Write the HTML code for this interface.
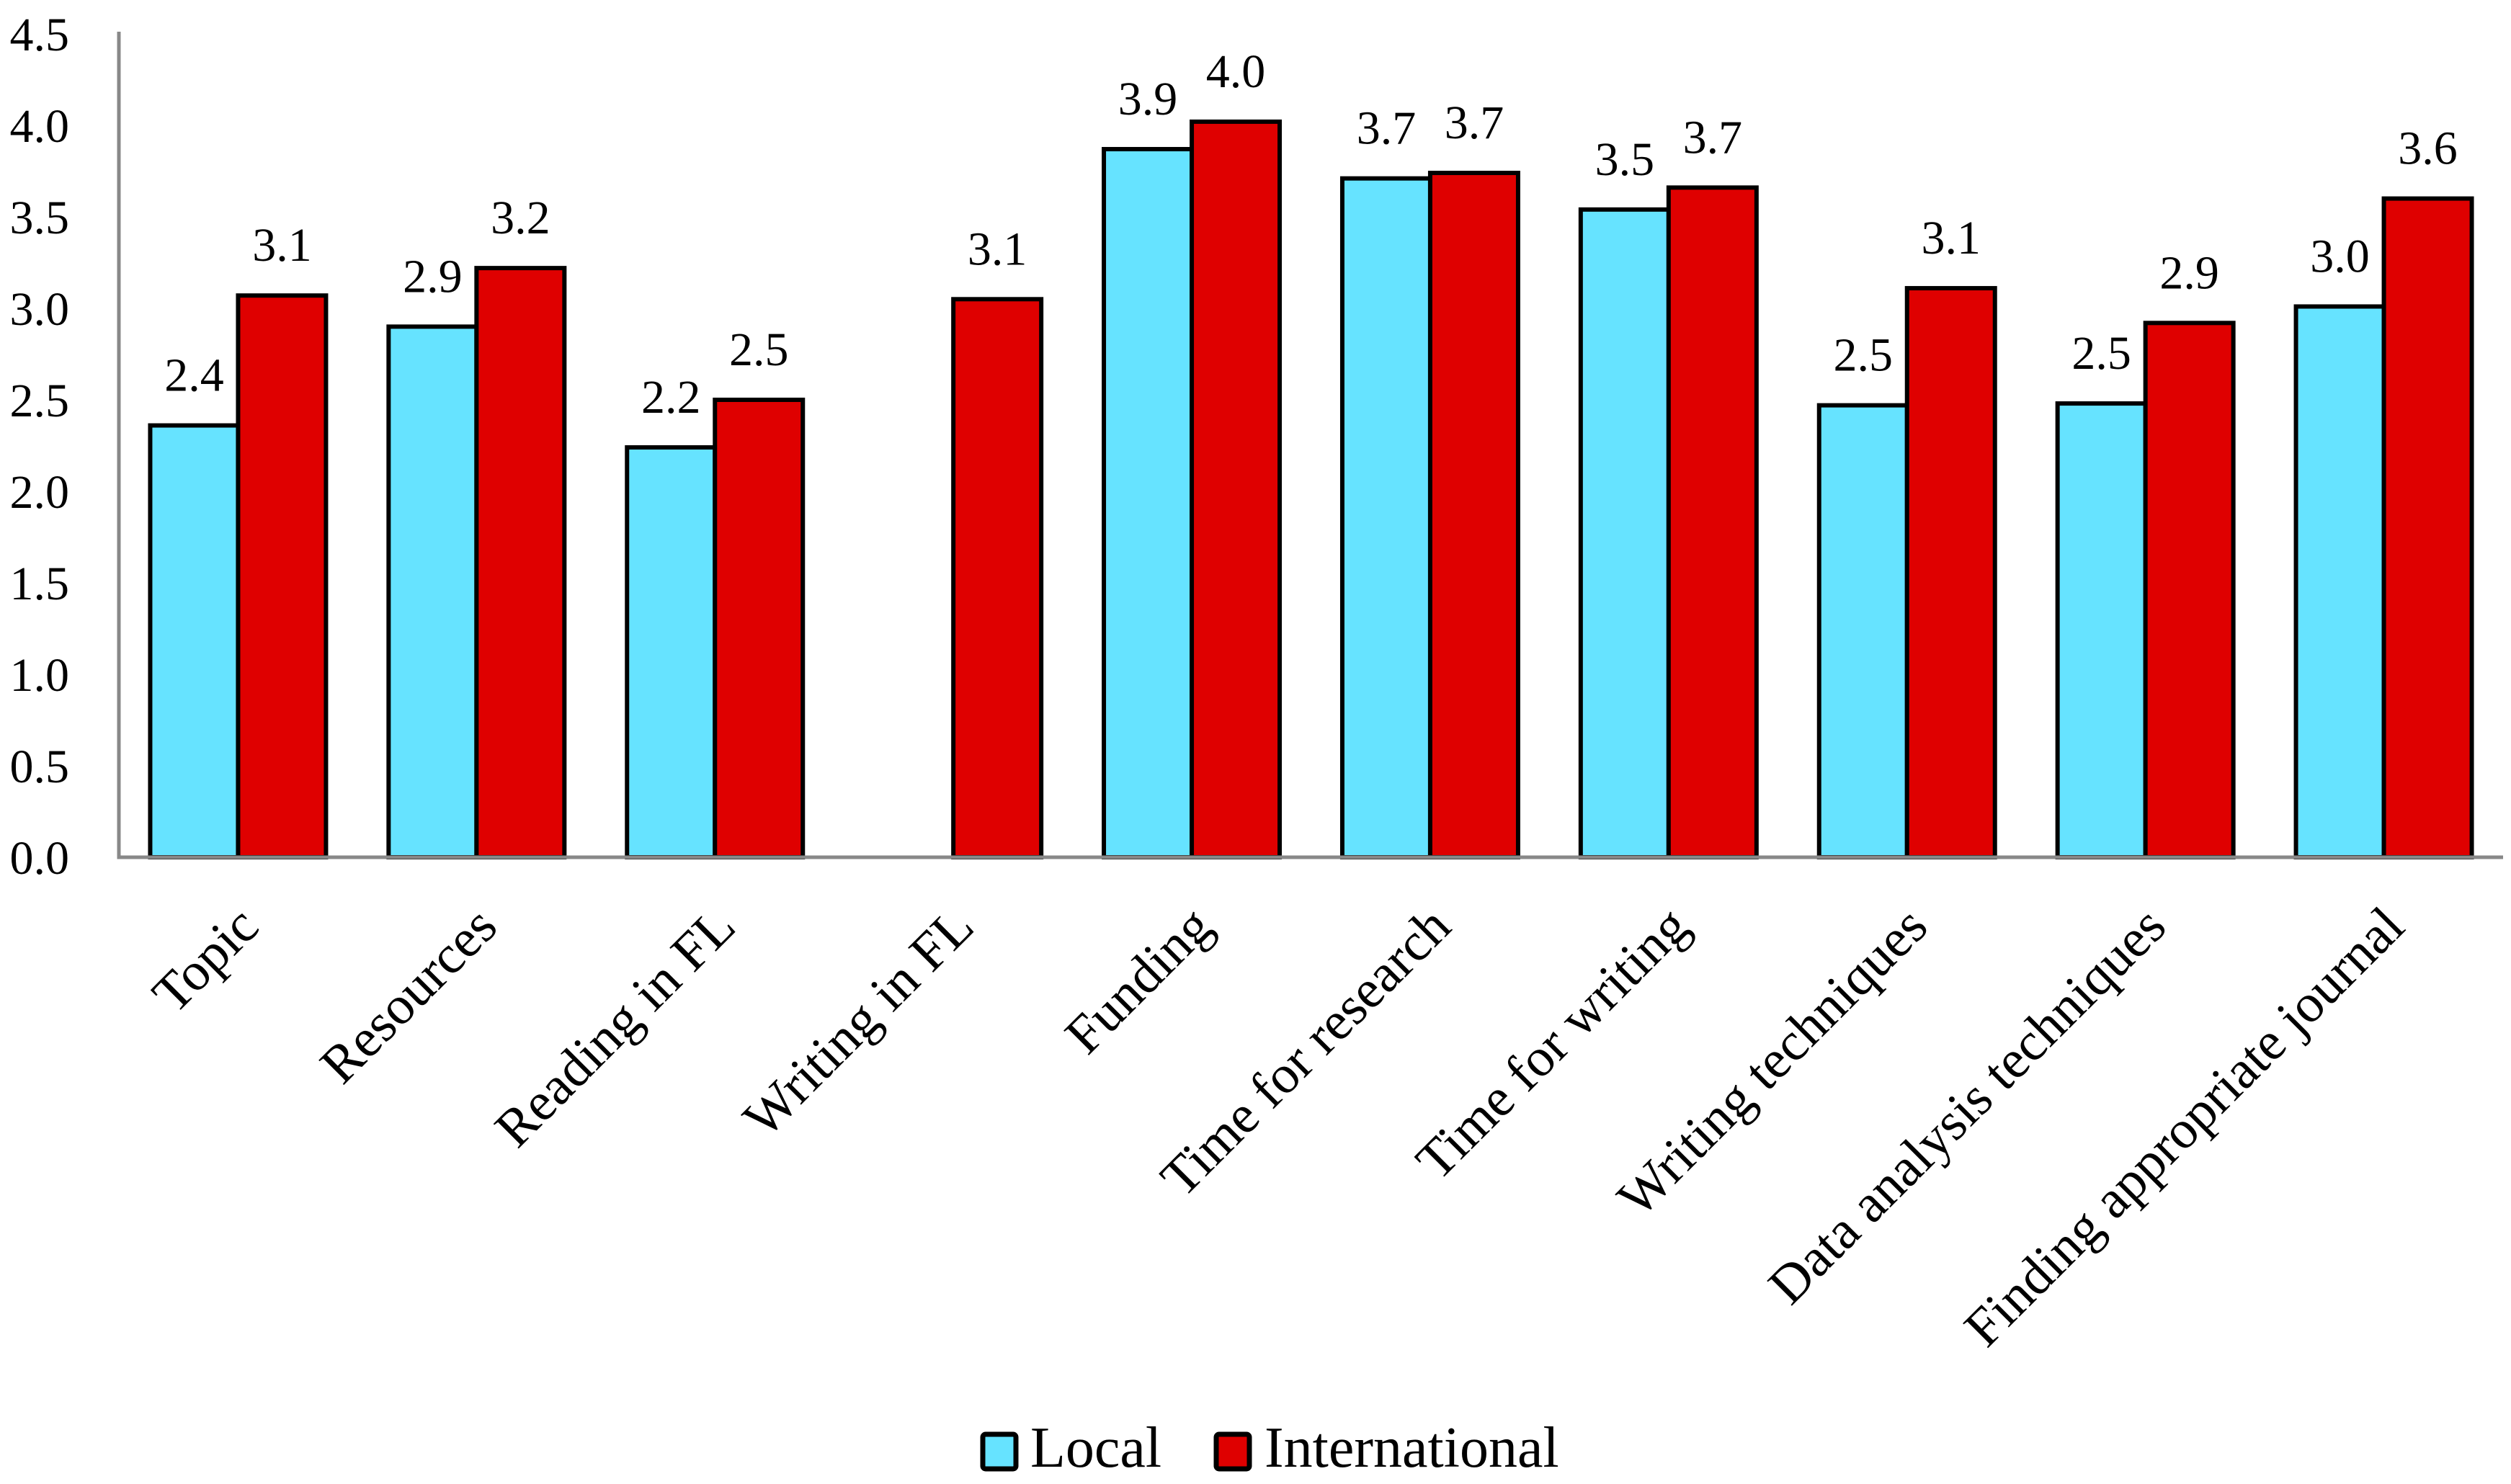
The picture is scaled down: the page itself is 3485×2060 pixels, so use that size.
<!DOCTYPE html>
<html><head><meta charset="utf-8"><style>
html,body{margin:0;padding:0;background:#fff;}
svg{display:block;font-family:"Liberation Serif",serif;}
</style></head><body>
<svg id="chart" width="3485" height="2060" viewBox="0 0 3485 2060" xmlns="http://www.w3.org/2000/svg"></svg>
<script>
const categories = ["Topic","Resources","Reading in FL","Writing in FL","Funding","Time for research","Time for writing","Writing techniques","Data analysis techniques","Finding appropriate journal"];
const localValues = [2.36,2.9,2.24,null,3.87,3.71,3.54,2.47,2.48,3.01];
const intlValues = [3.07,3.22,2.5,3.05,4.02,3.74,3.66,3.11,2.92,3.6];
const localLabels = ["2.4","2.9","2.2",null,"3.9","3.7","3.5","2.5","2.5","3.0"];
const intlLabels = ["3.1","3.2","2.5","3.1","4.0","3.7","3.7","3.1","2.9","3.6"];
const yTicks = [0,0.5,1,1.5,2,2.5,3,3.5,4,4.5];
const yTickLabels = ["0.0","0.5","1.0","1.5","2.0","2.5","3.0","3.5","4.0","4.5"];

const NS="http://www.w3.org/2000/svg";
const svg=document.getElementById('chart');
const X0=165,X1=3474,Y0=1190,PER=254;
const gw=(X1-X0)/categories.length, bw=122;
const y=v=>Y0-v*PER;
const gx=i=>X0+i*gw;
function mk(t,a,txt){const e=document.createElementNS(NS,t);for(const k in a)e.setAttribute(k,a[k]);if(txt!=null)e.textContent=txt;svg.appendChild(e);return e;}

yTicks.forEach((t,i)=>{
  const e=mk('text',{x:96,y:y(t)+23,'text-anchor':'end','font-size':66,fill:'#000'},yTickLabels[i]);
  
  
});

categories.forEach((c,i)=>{
  const left=gx(i)+(gw-2*bw)/2;
  if(localValues[i]!=null){
    const r=mk('rect',{x:left,y:y(localValues[i]),width:bw,height:localValues[i]*PER,fill:'#66E3FF',stroke:'#000','stroke-width':6});
    
    
    const t=mk('text',{x:left+bw/2,y:y(localValues[i])-48,'text-anchor':'middle','font-size':66},localLabels[i]);
    
    
  }
  const r2=mk('rect',{x:left+bw,y:y(intlValues[i]),width:bw,height:intlValues[i]*PER,fill:'#DF0000',stroke:'#000','stroke-width':6});
  
  
  const t2=mk('text',{x:left+bw*1.5,y:y(intlValues[i])-48,'text-anchor':'middle','font-size':66},intlLabels[i]);
  
  
  const cx=gx(i)+gw/2+32, cy=1290;
  const cl=mk('text',{x:cx,y:cy,'text-anchor':'end','font-size':75,transform:`rotate(-45 ${cx} ${cy})`},c);
  
  
});

const ax=mk('path',{d:`M${X0} 44 V${Y0} H${X1}`,fill:'none',stroke:'#888','stroke-width':5});



const l1=mk('rect',{x:1364,y:1991,width:46,height:48,rx:4,fill:'#66E3FF',stroke:'#000','stroke-width':7});


const lt1=mk('text',{x:1430,y:2036,'font-size':80},'Local');


const l2=mk('rect',{x:1688,y:1991,width:46,height:48,rx:4,fill:'#DF0000',stroke:'#000','stroke-width':7});


const lt2=mk('text',{x:1755,y:2036,'font-size':80},'International');


</script>
</body></html>
